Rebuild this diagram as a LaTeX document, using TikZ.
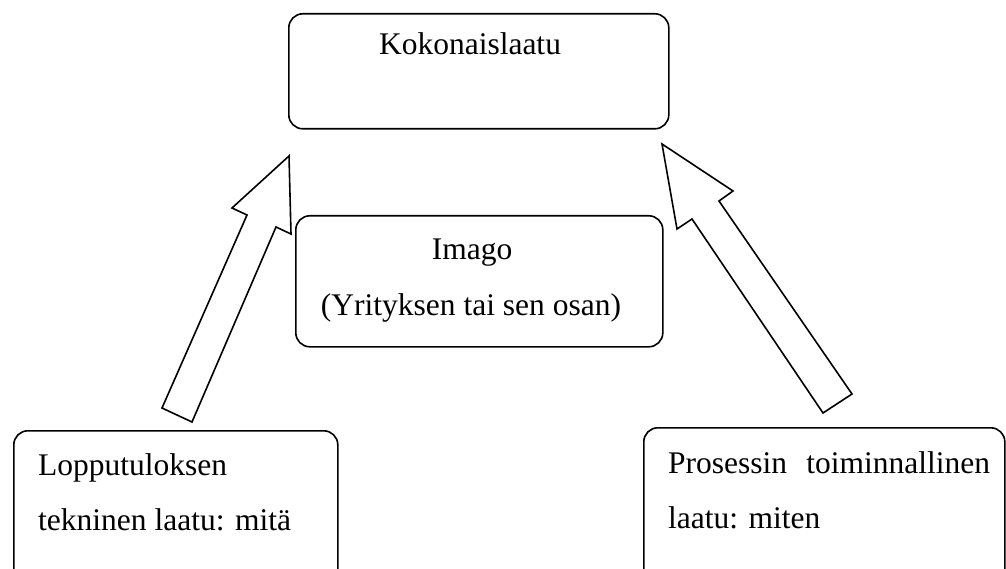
\documentclass[tikz,border=0pt]{standalone}
\usepackage{fontspec}
\setmainfont{Liberation Serif}
\begin{document}
\begin{tikzpicture}[x=1pt,y=-1pt,
  box/.style={draw, line width=1.6pt, rounded corners=14pt, inner sep=0pt, anchor=north west},
  txt/.style={font=\fontsize{31.5}{38}\selectfont, inner sep=0pt},
  blockarrow/.style={draw, line width=1.6pt, line join=miter, fill=white}]
\useasboundingbox (0,0) rectangle (1006,569);
\clip (0,0) rectangle (1006,569);
% boxes
\node[box, minimum width=380pt, minimum height=115pt] (total) at (288,13) {};
\node[box, minimum width=367pt, minimum height=131pt] (imago) at (295,215) {};
\node[box, minimum width=324pt, minimum height=175pt] (tech) at (13,430) {};
\node[box, minimum width=361pt, minimum height=178pt] (proc) at (643,427) {};
% texts
\node[txt, anchor=base] (totalT) at (470,55) {Kokonaislaatu};
\node[txt, anchor=base] (imagoT1) at (472,259) {Imago};
\node[txt, anchor=base] (imagoT2) at (471,315) {(Yrityksen tai sen osan)};
\node[txt, anchor=base west] (techT1) at (38,475) {Lopputuloksen};
\node[txt, anchor=base west] (techT2) at (38,530) {tekninen laatu: mitä};
\node[txt, anchor=base west] (procT1) at (668,473) {\makebox[322pt][s]{Prosessin\hfill toiminnallinen}};
\node[txt, anchor=base west] (procT2) at (668,528) {laatu: miten};
% block arrows
\coordinate (tipL) at (289,156);
\coordinate (tipR) at (662,144);
\draw[blockarrow] (162,408) -- (247,215) -- (232,208) -- (tipL) -- (291,234) -- (276,227) -- (192,422) -- cycle;
\draw[blockarrow] (852,394) -- (719,201) -- (733,191) -- (tipR) -- (677,229) -- (692,219) -- (823,413) -- cycle;
\end{tikzpicture}
\end{document}
